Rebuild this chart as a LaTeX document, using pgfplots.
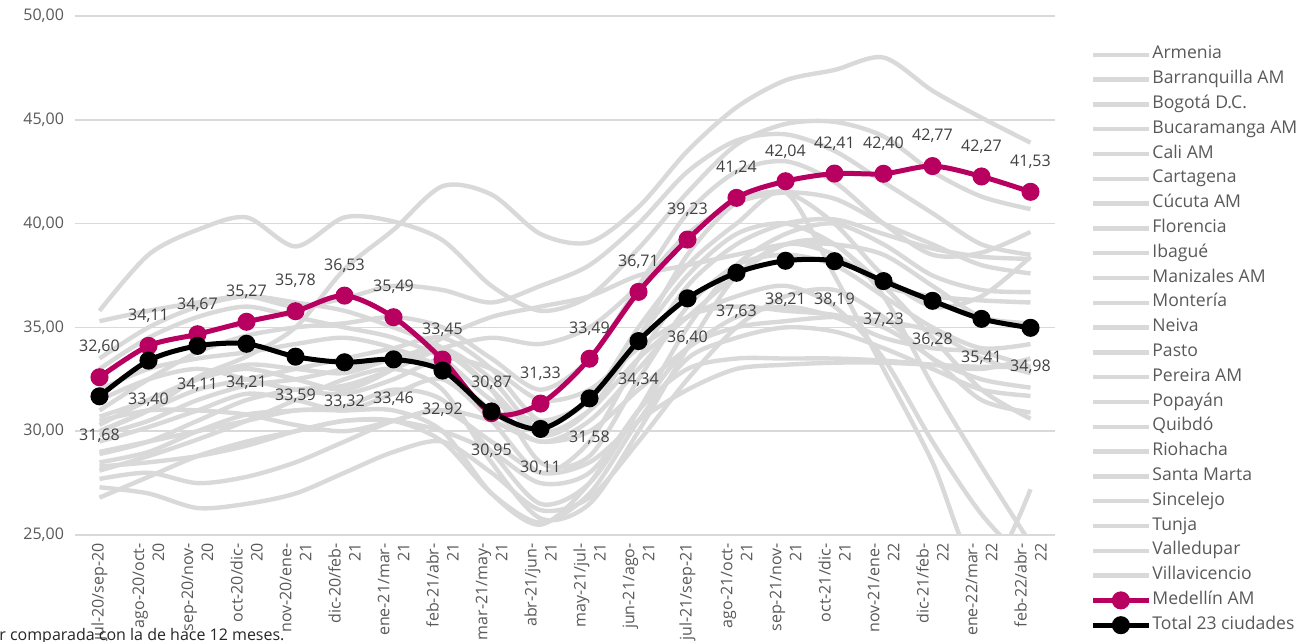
\documentclass[border=0pt]{standalone}
\usepackage{fontspec}
\setmainfont{Open Sans}
\usepackage{pgfplots}
\pgfplotsset{compat=1.18}

\definecolor{medel}{RGB}{183,0,95}
\definecolor{city}{RGB}{217,217,217}
\definecolor{gridc}{RGB}{217,217,217}
\definecolor{ticktxt}{RGB}{89,89,89}
\definecolor{labtxt}{RGB}{64,64,64}
\newcommand\lab{\fontsize{8}{10}\selectfont}
\newcommand\leg{\fontsize{8.8}{10}\selectfont}

\begin{document}
\begin{tikzpicture}
\useasboundingbox (0,0) rectangle (648.5pt,321pt);
\clip (0,0) rectangle (648.5pt,321pt);
\begin{axis}[
    at={(37.5pt,53.5pt)}, anchor=south west,
    scale only axis, width=490pt, height=259.5pt,
    xmin=-0.5, xmax=19.5, ymin=25, ymax=50,
    ytick={25,30,...,50},
    xtick={0,...,19},
    xticklabels={{jul-20/sep-20},{ago-20/oct-\\20},{sep-20/nov-\\20},{oct-20/dic-\\20},
        {nov-20/ene-\\21},{dic-20/feb-\\21},{ene-21/mar-\\21},{feb-21/abr-\\21},
        {mar-21/may-\\21},{abr-21/jun-\\21},{may-21/jul-\\21},{jun-21/ago-\\21},
        {jul-21/sep-21},{ago-21/oct-\\21},{sep-21/nov-\\21},{oct-21/dic-\\21},
        {nov-21/ene-\\22},{dic-21/feb-\\22},{ene-22/mar-\\22},{feb-22/abr-\\22}},
    axis line style={draw=none},
    major tick length=0pt,
    ymajorgrids, grid style={gridc, line width=0.75pt},
    yticklabel style={ticktxt, font=\lab, xshift=-2pt,
        /pgf/number format/.cd, fixed, fixed zerofill, precision=2, use comma, assume math mode=true},
    xticklabel style={ticktxt, font=\lab, rotate=90, anchor=east, align=right, inner sep=4pt},
    legend style={at={(1.0357,0.943)}, anchor=north west, draw=none, fill=none,
        inner sep=0pt, font=\leg, text=ticktxt, row sep=3.6pt,
        nodes={inner sep=0.5pt, text height=6pt, text depth=1.8pt}},
    legend cell align=left,
    legend image code/.code={\draw[#1, mark repeat=2, mark phase=2] plot coordinates {(0pt,0pt) (14pt,0pt) (28pt,0pt)};},
    every axis plot/.append style={smooth},
    cityline/.style={city, line width=2.2pt, no markers},
]
% ciudades
\addplot[cityline] coordinates {(0,30.0)(1,31.0)(2,32.6)(3,33.6)(4,35.0)(5,37.8)(6,39.7)(7,41.8)(8,41.4)(9,39.5)(10,39.1)(11,40.8)(12,43.5)(13,45.6)(14,46.9)(15,47.4)(16,48.0)(17,46.4)(18,45.1)(19,43.9)};
\addlegendentry{Armenia}
\addplot[cityline] coordinates {(0,35.8)(1,38.5)(2,39.7)(3,40.3)(4,38.9)(5,40.3)(6,40.1)(7,39.2)(8,37.0)(9,35.8)(10,36.5)(11,38.8)(12,41.5)(13,43.8)(14,44.8)(15,44.9)(16,44.2)(17,42.5)(18,41.3)(19,40.7)};
\addlegendentry{Barranquilla AM}
\addplot[cityline] coordinates {(0,35.3)(1,35.8)(2,36.2)(3,36.5)(4,36.0)(5,36.4)(6,37.0)(7,36.8)(8,36.2)(9,37.0)(10,38.0)(11,40.0)(12,42.5)(13,44.0)(14,44.3)(15,43.5)(16,42.0)(17,40.5)(18,39.0)(19,38.5)};
\addlegendentry{Bogotá D.C.}
\addplot[cityline] coordinates {(0,31.0)(1,32.5)(2,33.8)(3,34.6)(4,35.0)(5,35.2)(6,35.5)(7,35.0)(8,33.5)(9,32.0)(10,33.5)(11,37.0)(12,40.5)(13,42.5)(14,43.0)(15,42.0)(16,40.0)(17,38.5)(18,38.6)(19,39.6)};
\addlegendentry{Bucaramanga AM}
\addplot[cityline] coordinates {(0,30.7)(1,31.5)(2,32.5)(3,33.2)(4,33.0)(5,32.8)(6,33.5)(7,33.8)(8,32.0)(9,29.8)(10,31.0)(11,34.5)(12,38.5)(13,41.0)(14,41.5)(15,40.0)(16,37.5)(17,36.0)(18,36.5)(19,38.4)};
\addlegendentry{Cali AM}
\addplot[cityline] coordinates {(0,29.5)(1,30.2)(2,31.0)(3,31.8)(4,31.5)(5,31.0)(6,31.8)(7,32.5)(8,30.5)(9,28.0)(10,29.5)(11,33.5)(12,37.0)(13,39.0)(14,40.0)(15,40.2)(16,39.5)(17,38.8)(18,38.4)(19,38.3)};
\addlegendentry{Cartagena}
\addplot[cityline] coordinates {(0,28.9)(1,29.5)(2,30.5)(3,31.5)(4,32.0)(5,32.2)(6,33.0)(7,34.0)(8,34.5)(9,34.2)(10,35.0)(11,37.0)(12,39.5)(13,41.0)(14,41.5)(15,41.2)(16,40.0)(17,39.0)(18,38.0)(19,37.6)};
\addlegendentry{Cúcuta AM}
\addplot[cityline] coordinates {(0,28.5)(1,29.0)(2,30.0)(3,30.8)(4,31.0)(5,31.2)(6,32.0)(7,31.5)(8,29.0)(9,26.5)(10,27.5)(11,31.0)(12,35.0)(13,38.0)(14,39.5)(15,40.0)(16,39.0)(17,37.5)(18,36.8)(19,36.7)};
\addlegendentry{Florencia}
\addplot[cityline] coordinates {(0,28.1)(1,28.8)(2,29.6)(3,30.5)(4,31.5)(5,32.5)(6,33.0)(7,32.0)(8,28.5)(9,25.8)(10,26.5)(11,30.0)(12,34.0)(13,37.5)(14,39.0)(15,38.5)(16,37.0)(17,36.5)(18,36.3)(19,36.2)};
\addlegendentry{Ibagué}
\addplot[cityline] coordinates {(0,27.7)(1,28.0)(2,27.5)(3,27.8)(4,28.5)(5,29.5)(6,30.5)(7,31.0)(8,30.5)(9,29.5)(10,30.0)(11,32.0)(12,34.0)(13,35.5)(14,36.0)(15,35.5)(16,34.5)(17,34.0)(18,33.8)(19,33.1)};
\addlegendentry{Manizales AM}
\addplot[cityline] coordinates {(0,27.3)(1,27.0)(2,26.3)(3,26.5)(4,27.0)(5,28.0)(6,29.0)(7,29.5)(8,28.0)(9,26.2)(10,26.8)(11,29.5)(12,32.5)(13,35.0)(14,36.5)(15,36.8)(16,35.5)(17,33.5)(18,32.5)(19,32.1)};
\addlegendentry{Montería}
\addplot[cityline] coordinates {(0,26.8)(1,27.8)(2,28.8)(3,29.5)(4,30.0)(5,30.5)(6,30.5)(7,29.5)(8,27.0)(9,25.6)(10,27.0)(11,30.5)(12,33.5)(13,34.5)(14,35.0)(15,34.8)(16,34.0)(17,33.0)(18,32.0)(19,31.7)};
\addlegendentry{Neiva}
\addplot[cityline] coordinates {(0,32.0)(1,33.0)(2,33.5)(3,33.8)(4,34.2)(5,34.5)(6,34.0)(7,33.0)(8,31.0)(9,29.5)(10,30.5)(11,33.0)(12,35.5)(13,36.0)(14,35.8)(15,35.6)(16,35.0)(17,33.5)(18,31.5)(19,30.9)};
\addlegendentry{Pasto}
\addplot[cityline] coordinates {(0,33.0)(1,34.5)(2,35.5)(3,36.0)(4,35.5)(5,35.0)(6,34.5)(7,33.5)(8,31.5)(9,30.5)(10,31.5)(11,34.5)(12,37.5)(13,39.5)(14,40.0)(15,39.0)(16,37.0)(17,34.5)(18,32.0)(19,30.6)};
\addlegendentry{Pereira AM}
\addplot[cityline] coordinates {(0,30.0)(1,31.0)(2,32.0)(3,32.5)(4,33.0)(5,33.5)(6,34.0)(7,34.5)(8,33.0)(9,30.5)(10,31.5)(11,35.0)(12,38.0)(13,40.0)(14,41.5)(15,37.5)(16,33.0)(17,28.5)(18,23.0)(19,27.2)};
\addlegendentry{Popayán}
\addplot[cityline] coordinates {(0,29.8)(1,30.5)(2,31.5)(3,32.2)(4,32.5)(5,33.0)(6,33.5)(7,34.0)(8,32.5)(9,30.0)(10,31.0)(11,33.5)(12,35.5)(13,37.5)(14,39.0)(15,39.0)(16,36.5)(17,32.2)(18,28.3)(19,24.6)};
\addlegendentry{Quibdó}
\addplot[cityline] coordinates {(0,31.5)(1,32.5)(2,33.0)(3,32.5)(4,32.0)(5,31.8)(6,32.5)(7,33.5)(8,33.0)(9,31.5)(10,32.0)(11,34.0)(12,35.5)(13,36.5)(14,37.0)(15,36.0)(16,33.5)(17,29.5)(18,26.0)(19,23.5)};
\addlegendentry{Riohacha}
\addplot[cityline] coordinates {(0,30.3)(1,31.5)(2,32.5)(3,33.0)(4,32.5)(5,32.0)(6,33.0)(7,34.5)(8,35.5)(9,36.0)(10,36.5)(11,37.5)(12,38.0)(13,38.5)(14,39.0)(15,39.0)(16,38.5)(17,37.0)(18,35.5)(19,35.2)};
\addlegendentry{Santa Marta}
\addplot[cityline] coordinates {(0,29.0)(1,29.5)(2,30.0)(3,30.5)(4,31.0)(5,31.0)(6,31.0)(7,30.0)(8,27.0)(9,25.5)(10,27.5)(11,31.0)(12,33.0)(13,33.5)(14,33.5)(15,33.5)(16,33.4)(17,33.2)(18,33.0)(19,33.5)};
\addlegendentry{Sincelejo}
\addplot[cityline] coordinates {(0,33.5)(1,35.0)(2,36.0)(3,36.5)(4,36.2)(5,35.8)(6,35.0)(7,34.0)(8,32.0)(9,28.5)(10,28.8)(11,32.5)(12,36.0)(13,38.0)(14,38.5)(15,38.0)(16,36.5)(17,35.0)(18,34.0)(19,34.2)};
\addlegendentry{Tunja}
\addplot[cityline] coordinates {(0,28.3)(1,28.5)(2,28.8)(3,29.3)(4,30.0)(5,30.5)(6,30.5)(7,30.0)(8,29.0)(9,27.5)(10,28.0)(11,31.0)(12,34.0)(13,35.0)(14,35.3)(15,35.5)(16,35.3)(17,34.8)(18,33.5)(19,32.8)};
\addlegendentry{Valledupar}
\addplot[cityline] coordinates {(0,30.5)(1,31.0)(2,31.0)(3,30.8)(4,30.3)(5,30.0)(6,30.5)(7,31.0)(8,29.5)(9,28.0)(10,28.5)(11,30.5)(12,32.0)(13,33.0)(14,33.2)(15,33.3)(16,33.3)(17,33.2)(18,33.1)(19,33.1)};
\addlegendentry{Villavicencio}
% Medellín AM
\addplot[medel, line width=2.5pt, mark=*, mark size=3.25pt,
    nodes near coords, point meta=explicit symbolic,
    every node near coord/.append style={anchor=south, yshift=7pt, text=labtxt, font=\lab}]
    table[meta=lab] {
x y lab
0 32.60 32,60
1 34.11 34,11
2 34.67 34,67
3 35.27 35,27
4 35.78 35,78
5 36.53 36,53
6 35.49 35,49
7 33.45 33,45
8 30.87 30,87
9 31.33 31,33
10 33.49 33,49
11 36.71 36,71
12 39.23 39,23
13 41.24 41,24
14 42.04 42,04
15 42.41 42,41
16 42.40 42,40
17 42.77 42,77
18 42.27 42,27
19 41.53 41,53
};
\addlegendentry{Medellín AM}
% Total 23 ciudades
\addplot[black, line width=2.5pt, mark=*, mark size=3.25pt,
    nodes near coords, point meta=explicit symbolic,
    every node near coord/.append style={anchor=north, yshift=-11.5pt, text=labtxt, font=\lab}]
    table[meta=lab] {
x y lab
0 31.68 31,68
1 33.40 33,40
2 34.11 34,11
3 34.21 34,21
4 33.59 33,59
5 33.32 33,32
6 33.46 33,46
7 32.92 32,92
8 30.95 30,95
9 30.11 30,11
10 31.58 31,58
11 34.34 34,34
12 36.40 36,40
13 37.63 37,63
14 38.21 38,21
15 38.19 38,19
16 37.23 37,23
17 36.28 36,28
18 35.41 35,41
19 34.98 34,98
};
\addlegendentry{Total 23 ciudades}
\end{axis}
\node[anchor=base west, font=\lab, text=black!85, inner sep=0pt] at (-0.5pt,0.5pt) {r comparada con la de hace 12 meses.};
\end{tikzpicture}
\end{document}
